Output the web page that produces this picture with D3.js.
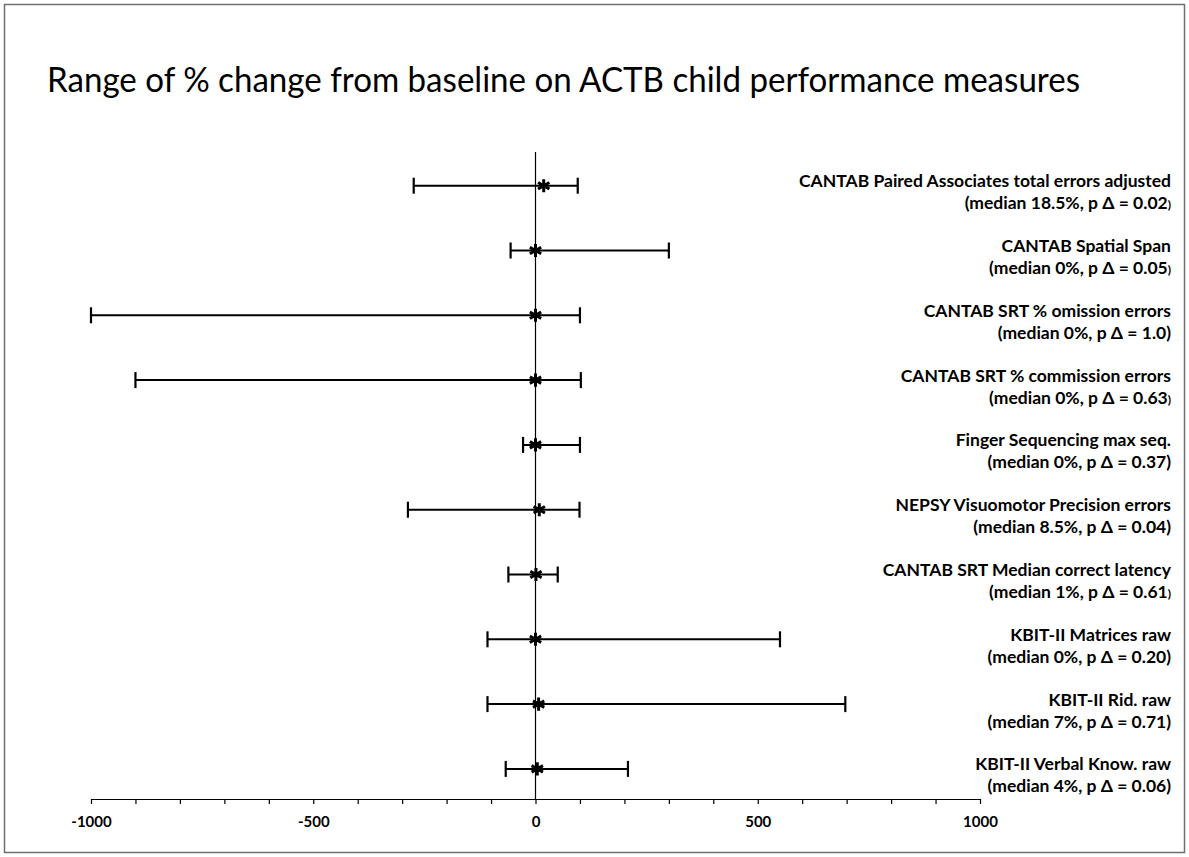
<!DOCTYPE html>
<html>
<head>
<meta charset="utf-8">
<script src="https://cdn.jsdelivr.net/npm/d3@7"></script>
<style>
  html, body { margin: 0; padding: 0; background: #fff; }
  svg { display: block; }
</style>
</head>
<body>
<div id="chart"></div>
<script>
// ---- data ----
const measures = [
  "CANTAB Paired Associates total errors adjusted",
  "CANTAB Spatial Span",
  "CANTAB SRT % omission errors",
  "CANTAB SRT % commission errors",
  "Finger Sequencing max seq.",
  "NEPSY Visuomotor Precision errors",
  "CANTAB SRT Median correct latency",
  "KBIT-II Matrices raw",
  "KBIT-II Rid. raw",
  "KBIT-II Verbal Know. raw"
];
const medianLabels = ["18.5%", "0%", "0%", "0%", "0%", "8.5%", "1%", "0%", "7%", "4%"];
const pValues = ["0.02", "0.05", "1.0", "0.63", "0.37", "0.04", "0.61", "0.20", "0.71", "0.06"];
const smallParen = [true, true, false, true, false, false, true, false, false, false];
const medians = [18.5, 0, 0, 0, 0, 8.5, 1, 0, 7, 4];
const minChange = [-274, -56, -1000, -900, -28, -287, -61, -108, -108, -67];
const maxChange = [95, 300, 100, 102, 100, 99, 50, 550, 697, 208];
const tickValues = d3.range(-1000, 1001, 100);
const labeledTicks = [-1000, -500, 0, 500, 1000];
const title = "Range of % change from baseline on ACTB child performance measures";

// ---- layout ----
const W = 1189, H = 857;
const FONT = "Lato, 'Open Sans', sans-serif";
const svg = d3.select("#chart").append("svg").attr("width", W).attr("height", H);

svg.append("rect").attr("x", 4.5).attr("y", 4.5).attr("width", W - 9).attr("height", H - 9)
  .attr("fill", "#fff").attr("stroke", "#6f6f6f").attr("stroke-width", 1.5);

svg.append("text").attr("x", 563.5).attr("y", 92)
  .attr("text-anchor", "middle")
  .attr("font-family", FONT)
  .attr("font-size", 34).attr("fill", "#000")
  .attr("textLength", 1033).attr("lengthAdjust", "spacingAndGlyphs")
  .text(title);

const x = d3.scaleLinear().domain([-1000, 1000]).range([91, 980]);
const y = d3.scaleBand().domain(measures).range([153.3, 801.3]);
const axisY = 799;

// zero line
svg.append("line").attr("x1", x(0)).attr("x2", x(0)).attr("y1", 152).attr("y2", axisY)
  .attr("stroke", "#000").attr("stroke-width", 1.2);

// axis
const axis = d3.axisBottom(x).tickValues(tickValues).tickSize(5).tickSizeOuter(0)
  .tickFormat(d => labeledTicks.includes(d) ? String(d) : "");
const gAxis = svg.append("g").attr("transform", `translate(0,${axisY})`).call(axis);
gAxis.select(".domain").attr("stroke", "#000").attr("stroke-width", 1.2);
gAxis.selectAll(".tick line").attr("stroke", "#000").attr("stroke-width", 1.2);
gAxis.selectAll(".tick text")
  .attr("font-family", FONT)
  .attr("font-weight", "bold").attr("font-size", 15).attr("fill", "#000")
  .attr("dy", "1.3em");

// error bars
const rows = measures.map((m, i) => ({m, i, lo: minChange[i], hi: maxChange[i], med: medians[i]}));
const cap = 8;
const g = svg.append("g");
rows.forEach(r => {
  const cy = y(r.m) + y.bandwidth() / 2;
  g.append("line").attr("x1", x(r.lo)).attr("x2", x(r.hi)).attr("y1", cy).attr("y2", cy)
    .attr("stroke", "#000").attr("stroke-width", 2);
  [r.lo, r.hi].forEach(v => {
    g.append("line").attr("x1", x(v)).attr("x2", x(v)).attr("y1", cy - cap).attr("y2", cy + cap)
      .attr("stroke", "#000").attr("stroke-width", 2.2);
  });
  g.append("path").attr("d", d3.symbol(d3.symbolAsterisk, 120)())
    .attr("transform", `translate(${x(r.med)},${cy})`)
    .attr("fill", "none").attr("stroke", "#000").attr("stroke-width", 3);
});

// labels
const labelX = 1171;
rows.forEach(r => {
  const cy = y(r.m) + y.bandwidth() / 2;
  svg.append("text").attr("text-anchor", "end")
    .attr("font-family", FONT)
    .attr("font-weight", "bold").attr("font-size", 17.5).attr("fill", "#000")
    .attr("x", labelX).attr("y", cy + 1.5)
    .text(measures[r.i]);
  const t2 = svg.append("text").attr("text-anchor", "end")
    .attr("font-family", FONT)
    .attr("font-weight", "bold").attr("font-size", 17.5).attr("fill", "#000")
    .attr("x", labelX).attr("y", cy + 23.5);
  t2.append("tspan").text(`(median ${medianLabels[r.i]}, p \u0394 = ${pValues[r.i]}`);
  t2.append("tspan").attr("font-size", smallParen[r.i] ? 12 : 17.5).text(")");
});
</script>
</body>
</html>
